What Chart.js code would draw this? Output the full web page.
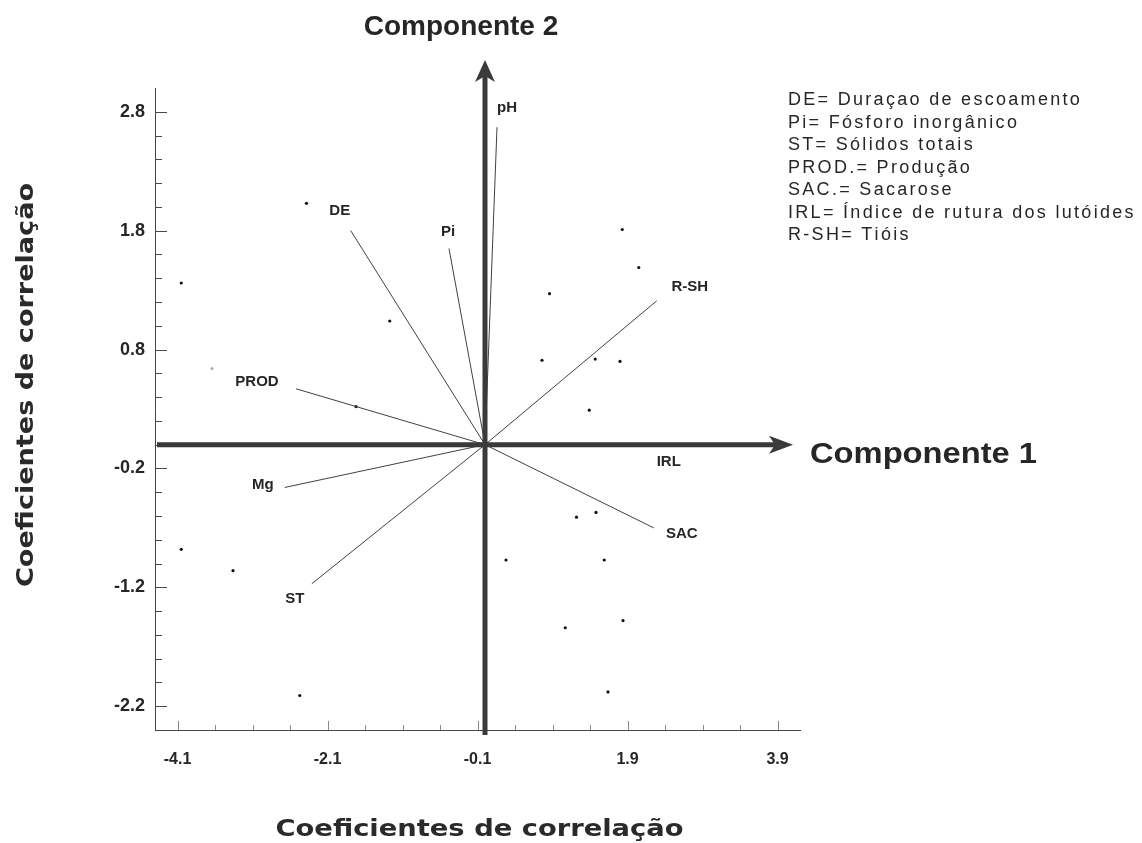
<!DOCTYPE html>
<html>
<head>
<meta charset="utf-8">
<title>Componentes principais</title>
<script src="https://cdn.jsdelivr.net/npm/chart.js@4.4.1/dist/chart.umd.min.js"></script>
<style>
  html, body { margin: 0; padding: 0; background: #fff; }
</style>
</head>
<body>
<canvas id="biplot" width="1142" height="843"></canvas>
<script>
// variable vectors (correlations with component 1 and 2)
const varNames = ['pH', 'DE', 'Pi', 'PROD', 'Mg', 'ST', 'SAC', 'IRL', 'R-SH'];
const varX = [0.16, -1.79, -0.48, -2.52, -2.67, -2.31, 2.25, 2.45, 2.29];
const varY = [2.67, 1.80, 1.65, 0.47, -0.36, -1.17, -0.70, 0.00, 1.21];

// sample scores (dots)
const scoreX = [-2.38, -4.05, -1.27, -3.64, -1.72, 1.83, 2.05, 0.86, 0.76, 1.47, 1.80,
                1.39, -4.05, -3.36, -2.47, 0.28, 1.22, 1.48, 1.59, 1.07, 1.84, 1.64];
const scoreY = [2.03, 1.36, 1.04, 0.64, 0.32, 1.81, 1.49, 1.27, 0.71, 0.72, 0.70,
                0.29, -0.88, -1.06, -2.11, -0.97, -0.61, -0.57, -0.97, -1.54, -1.48, -2.08];
// the print of this one is very faint
const faintScores = [3];

// tick labels
const xTickLabels = [-4.1, -2.1, -0.1, 1.9, 3.9];
const yTickLabels = [-2.2, -1.2, -0.2, 0.8, 1.8, 2.8];

const legendNotes = [
  'DE= Duraçao de escoamento',
  'Pi= Fósforo inorgânico',
  'ST= Sólidos totais',
  'PROD.= Produção',
  'SAC.= Sacarose',
  'IRL= Índice de rutura dos lutóides',
  'R-SH= Tióis'
];

// where each vector label sits relative to the vector tip (px)
const labelOffset = {
  'pH': [10, -19], 'DE': [-11, -20], 'Pi': [-1, -17], 'PROD': [-39, -7],
  'Mg': [-22, -3], 'ST': [-17, 15], 'SAC': [28, 6], 'IRL': [0, 17], 'R-SH': [33, -14]
};

const ink = '#262626';
const sans = '"Liberation Sans", Arial, sans-serif';
const bold = s => 'bold ' + s + 'px ' + sans;

// minor ticks between the labelled ones
function minorTicks(labels, step) {
  const out = [];
  const first = labels[0], last = labels[labels.length - 1];
  const n = Math.round((last - first) / step);
  for (let i = 0; i <= n; i++) out.push({ value: Math.round((first + i * step) * 10) / 10 });
  return out;
}
const isMajor = (labels, v) => labels.some(l => Math.abs(l - v) < 1e-6);

// text squeezed/stretched to a given width (the scanned titles are wide)
function wideText(ctx, text, x, y, width, align) {
  const k = width / ctx.measureText(text).width;
  ctx.save();
  ctx.translate(x, y);
  ctx.scale(k, 1);
  ctx.textAlign = align;
  ctx.fillText(text, 0, 0);
  ctx.restore();
}
// loosely tracked text, like the abbreviation list
function trackedText(ctx, text, x, y, gap) {
  for (const ch of text) {
    ctx.fillText(ch, x, y);
    x += ctx.measureText(ch).width + gap;
  }
}

const decor = {
  id: 'decor',
  afterDatasetsDraw(chart) {
    const { ctx, chartArea: a, scales: { x, y } } = chart;
    const ox = x.getPixelForValue(0), oy = y.getPixelForValue(0);
    ctx.save();

    // tick marks pointing into the plot
    ctx.strokeStyle = '#4a4a4a';
    ctx.lineWidth = 1;
    ctx.beginPath();
    y.ticks.forEach(t => {
      const py = Math.round(y.getPixelForValue(t.value)) + 0.5;
      const len = isMajor(yTickLabels, t.value) ? 12 : 7;
      ctx.moveTo(a.left, py); ctx.lineTo(a.left + len, py);
    });
    ctx.stroke();
    ctx.strokeStyle = '#8a8a8a';
    ctx.beginPath();
    x.ticks.forEach(t => {
      const px = Math.round(x.getPixelForValue(t.value)) + 0.5;
      const len = isMajor(xTickLabels, t.value) ? 9 : 5;
      ctx.moveTo(px, a.bottom); ctx.lineTo(px, a.bottom - len);
    });
    ctx.stroke();

    // vector labels
    ctx.fillStyle = ink;
    ctx.font = bold(15);
    ctx.textAlign = 'center';
    ctx.textBaseline = 'middle';
    varNames.forEach((name, i) => {
      const off = labelOffset[name];
      ctx.fillText(name, x.getPixelForValue(varX[i]) + off[0], y.getPixelForValue(varY[i]) + off[1]);
    });

    // thick component axes with arrow heads
    ctx.strokeStyle = '#3a3a3a';
    ctx.fillStyle = '#3a3a3a';
    ctx.lineWidth = 5;
    const hx = a.right - 7, vy = a.top - 28;
    ctx.beginPath();
    ctx.moveTo(a.left + 2, oy); ctx.lineTo(hx - 14, oy);
    ctx.moveTo(ox, a.bottom + 5); ctx.lineTo(ox, vy + 14);
    ctx.stroke();
    ctx.beginPath();
    ctx.moveTo(hx, oy); ctx.lineTo(hx - 24, oy - 9); ctx.lineTo(hx - 18, oy); ctx.lineTo(hx - 24, oy + 9);
    ctx.closePath(); ctx.fill();
    ctx.beginPath();
    ctx.moveTo(ox, vy); ctx.lineTo(ox - 10, vy + 22); ctx.lineTo(ox, vy + 16); ctx.lineTo(ox + 10, vy + 22);
    ctx.closePath(); ctx.fill();

    // component titles
    ctx.fillStyle = ink;
    ctx.textBaseline = 'alphabetic';
    ctx.font = bold(28);
    ctx.textAlign = 'center';
    ctx.fillText('Componente 2', ox - 24, 35);
    ctx.font = bold(29);
    wideText(ctx, 'Componente 1', a.right + 10, oy + 18, 227, 'left');

    // axis titles (heavy, wide face)
    ctx.fillStyle = '#2a2a2a';
    ctx.font = 'bold 23px "DejaVu Sans", sans-serif';
    wideText(ctx, 'Coeficientes de correlação', (a.left + a.right) / 2 + 2, 836, 408, 'center');
    ctx.save();
    ctx.translate(33, 587);
    ctx.rotate(-Math.PI / 2);
    wideText(ctx, 'Coeficientes de correlação', 0, 0, 404, 'left');
    ctx.restore();

    // abbreviations
    ctx.fillStyle = ink;
    ctx.font = '18px ' + sans;
    ctx.textAlign = 'left';
    legendNotes.forEach((t, i) => trackedText(ctx, t, 788, 105 + i * 22.5, 2.3));

    ctx.restore();
  }
};

const vectorSets = varNames.map((name, i) => ({
  label: name,
  data: [{ x: 0, y: 0 }, { x: varX[i], y: varY[i] }],
  showLine: true,
  borderColor: '#404040',
  borderWidth: 1,
  pointRadius: 0
}));

new Chart(document.getElementById('biplot'), {
  type: 'scatter',
  data: {
    datasets: [
      ...vectorSets,
      {
        label: 'amostras',
        data: scoreX.map((v, i) => ({ x: v, y: scoreY[i] })),
        pointRadius: 1.6,
        pointBackgroundColor: c => faintScores.includes(c.dataIndex) ? '#b0b0b0' : '#111',
        pointBorderWidth: 0
      }
    ]
  },
  options: {
    responsive: false,
    animation: false,
    layout: { padding: { top: 88, right: 342, left: 0, bottom: 0 } },
    plugins: { legend: { display: false }, tooltip: { enabled: false } },
    scales: {
      x: {
        min: -4.4, max: 4.2,
        afterBuildTicks: s => { s.ticks = minorTicks(xTickLabels, 0.5); },
        afterFit: s => { s.height = 113; },
        grid: { display: false, drawTicks: false },
        border: { color: '#444', width: 1 },
        ticks: {
          autoSkip: false, maxRotation: 0, padding: 20, color: ink,
          font: { family: sans, size: 16, weight: 'bold' },
          callback: v => isMajor(xTickLabels, v) ? v.toFixed(1) : ''
        }
      },
      y: {
        min: -2.4, max: 3.0,
        afterBuildTicks: s => { s.ticks = minorTicks(yTickLabels, 0.2); },
        afterFit: s => { s.width = 155; },
        grid: { display: false, drawTicks: false },
        border: { color: '#444', width: 1 },
        ticks: {
          autoSkip: false, padding: 10, color: ink,
          font: { family: sans, size: 18, weight: 'bold' },
          callback: v => isMajor(yTickLabels, v) ? v.toFixed(1) : ''
        }
      }
    }
  },
  plugins: [decor]
});
</script>
</body>
</html>
